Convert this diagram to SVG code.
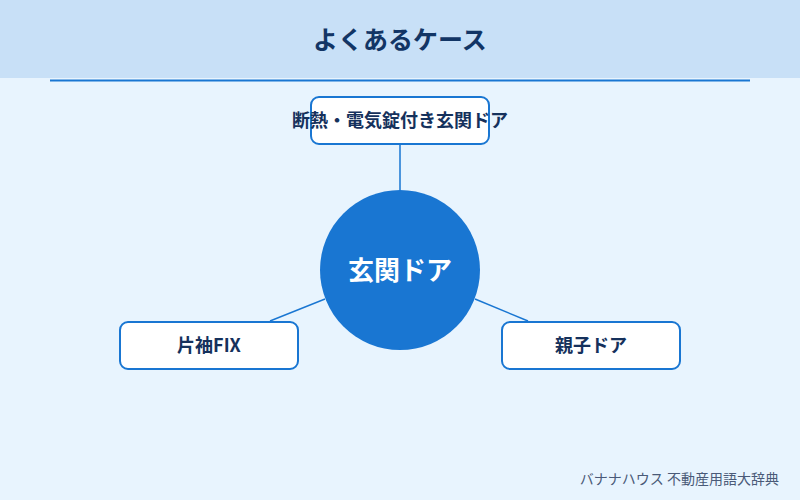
<svg xmlns="http://www.w3.org/2000/svg" width="800" height="500" viewBox="0 0 800 500">
<style>
.t{font-family:"Noto Sans CJK JP","Noto Sans",sans-serif;}
.node rect{fill:#ffffff;stroke:#1976d2;stroke-width:2;}
.lbl{font-family:"Noto Sans CJK JP","Noto Sans",sans-serif;font-size:18px;font-weight:bold;fill:#15315c;text-anchor:middle;dominant-baseline:central;}
.conn line{stroke:#1976d2;stroke-width:1.5;}
</style>
<rect x="0" y="0" width="800" height="500" fill="#e8f4fe"/>
<rect x="0" y="0" width="800" height="78" fill="#c8e0f7"/>
<text class="t" x="400" y="38" font-size="25" font-weight="bold" fill="#123565" text-anchor="middle" dominant-baseline="central">よくあるケース</text>
<line x1="50" y1="80.500" x2="750" y2="80.500" stroke="#1976d2" stroke-width="2"/>
<g class="conn" id="connectors">
<line x1="400" y1="144" x2="400" y2="190"/>
<line x1="325" y1="299" x2="270" y2="321"/>
<line x1="475" y1="299" x2="528" y2="321"/>
</g>
<g id="node-center">
<circle cx="400" cy="270" r="80" fill="#1976d2"/>
<text class="t" x="400" y="268" font-size="26" font-weight="bold" fill="#ffffff" text-anchor="middle" dominant-baseline="central">玄関ドア</text>
</g>
<g class="node" id="node-top">
<rect x="311" y="97" width="178" height="47" rx="8"/>
<text class="lbl" x="400" y="119">断熱・電気錠付き玄関ドア</text>
</g>
<g class="node" id="node-left">
<rect x="120" y="322" width="178" height="47" rx="8"/>
<text class="lbl" x="209" y="344">片袖FIX</text>
</g>
<g class="node" id="node-right">
<rect x="502" y="322" width="178" height="47" rx="8"/>
<text class="lbl" x="591" y="344">親子ドア</text>
</g>
<text class="t" x="779" y="478" font-size="14" fill="#4a5a78" text-anchor="end" dominant-baseline="central">バナナハウス 不動産用語大辞典</text>
</svg>
